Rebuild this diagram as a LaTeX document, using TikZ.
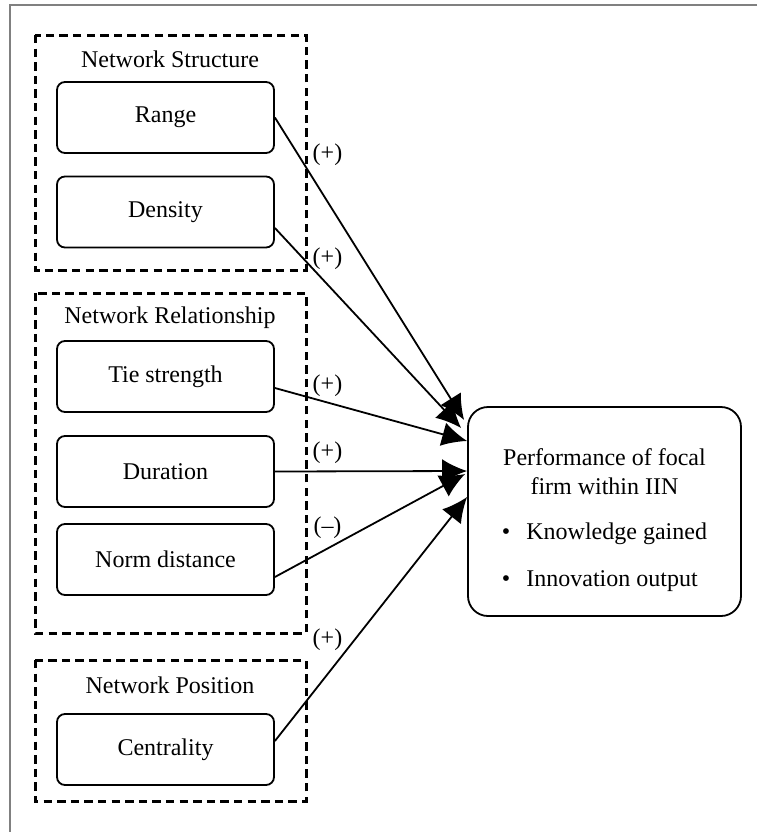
\documentclass[tikz,border=0pt]{standalone}
\usepackage{fontspec}
\setmainfont{Liberation Serif}
\usetikzlibrary{arrows.meta}

\tikzset{
  factor/.style={draw, line width=0.9pt, rounded corners=4pt,
    minimum width=108.5pt, minimum height=35.5pt, inner sep=0pt},
  group/.style={line width=1.5pt, dash pattern=on 4.2pt off 2.6pt},
  grouptitle/.style={inner sep=0pt},
  sign/.style={inner sep=0pt},
  outcome/.style={draw, line width=0.9pt, rounded corners=10pt, align=center,
    minimum width=136.5pt, minimum height=104.5pt, inner sep=0pt},
  link/.style={line width=0.9pt, -{Latex[length=12.5pt,width=12pt]}},
}

\begin{document}
\begin{tikzpicture}[x=0.5pt, y=-0.5pt, font=\fontsize{12}{14.5}\selectfont]

    \useasboundingbox (0,0) rectangle (757,832);
    \draw[gray, line width=0.7pt] (757,5) -- (10,5) -- (10,832);

    % Network Structure
    \draw[group] (35,35) rectangle (306,270);
    \node[grouptitle] (structure) at (170,59) {Network Structure};
    \node[factor] (range) at (165.5,117.5) {Range};
    \node[factor] (density) at (165.5,212) {Density};

    % Network Relationship
    \draw[group] (35,293) rectangle (306,633);
    \node[grouptitle] (relationship) at (170,318) {Network Relationship};
    \node[factor] (tie) at (165.5,376.5) {Tie strength};
    \node[factor] (duration) at (165.5,471.5) {Duration};
    \node[factor] (norm) at (165.5,559.5) {Norm distance};

    % Network Position
    \draw[group] (35,660) rectangle (306,801);
    \node[grouptitle] (position) at (170,685) {Network Position};
    \node[factor] (centrality) at (165.5,749.5) {Centrality};

    % Performance
    \node[outcome] (perf) at (604.5,511.5) {\rule{0pt}{19pt}Performance of focal\\firm within IIN\\[8pt]
      \begin{tabular}[t]{@{}l@{}}\textbullet\hspace{8pt}Knowledge gained\\[9pt]
      \textbullet\hspace{8pt}Innovation output\end{tabular}};

    % Effects
    \draw[link] (range.east) -- ([xshift=-1.5pt,yshift=45.75pt]perf.west);
    \draw[link] ([yshift=-8pt]density.east) -- ([xshift=-3pt,yshift=41.75pt]perf.west);
    \draw[link] ([yshift=-5.75pt]tie.east) -- ([yshift=35.25pt]perf.west);
    \draw[link] (duration.east) -- ([yshift=20.25pt]perf.west);
    \draw[link] ([yshift=-8.75pt]norm.east) -- ([xshift=-1pt,yshift=18.75pt]perf.west);
    \draw[link] ([yshift=4.25pt]centrality.east) -- ([yshift=7.25pt]perf.west);

    \node[sign] (s-range) at (327.5,155) {(+)};
    \node[sign] (s-density) at (327.5,259) {(+)};
    \node[sign] (s-tie) at (327.5,386) {(+)};
    \node[sign] (s-duration) at (327.5,453) {(+)};
    \node[sign] (s-norm) at (327.5,528) {(--)};
    \node[sign] (s-centrality) at (327.5,640) {(+)};

\end{tikzpicture}
\end{document}
